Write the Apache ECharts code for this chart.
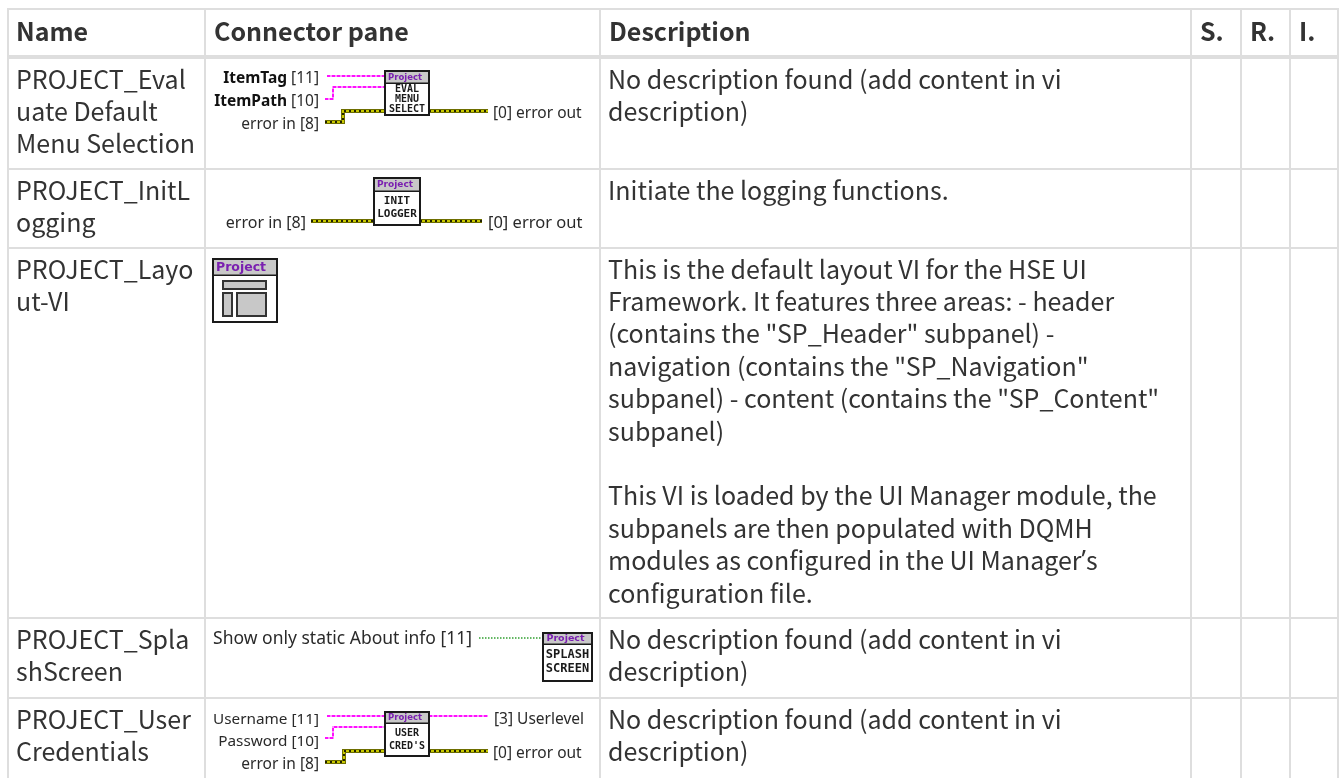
<!DOCTYPE html>
<html><head><meta charset="utf-8">
<style>html,body{margin:0;padding:0;background:#fff}#c{width:1340px;height:778px}</style>
<script src="https://cdn.jsdelivr.net/npm/echarts@6/dist/echarts.min.js"></script>
</head><body><div id="c"></div>
<script>
const headers = ['Name','Connector pane','Description','S.','R.','I.'];
const names = [
  ['PROJECT_Eval','uate Default','Menu Selection'],
  ['PROJECT_InitL','ogging'],
  ['PROJECT_Layo','ut-VI'],
  ['PROJECT_Spla','shScreen'],
  ['PROJECT_User','Credentials']
];
const descriptions = [
  ['No description found (add content in vi','description)'],
  ['Initiate the logging functions.'],
  ['This is the default layout VI for the HSE UI','Framework. It features three areas: - header','(contains the "SP_Header" subpanel) -','navigation (contains the "SP_Navigation"','subpanel) - content (contains the "SP_Content"','subpanel)','','This VI is loaded by the UI Manager module, the','subpanels are then populated with DQMH','modules as configured in the UI Manager{q|\u2019}s','configuration file.'],
  ['No description found (add content in vi','description)'],
  ['No description found (add content in vi','description)']
];
const colX = [7,204,599,1190,1240,1289,1337];
const rowY = [8,57,168,247,617,697];

const FONT = '"Noto Sans CJK SC","Noto Sans",sans-serif';
const UI = '"Noto Sans",sans-serif';
const TXT = '#333333', LINE = '#dedede';
const g = [];
const mctx = document.createElement('canvas').getContext('2d');
function W(s,font){ mctx.font=font; return mctx.measureText(s).width; }
function T(x,y,s,o,z){ g.push({type:'text',z:z||5,style:Object.assign({x,y,text:s,fill:TXT,font:'25px '+FONT,align:'left',verticalAlign:'middle',rich:{q:{font:'25px "Noto Sans"',fill:TXT}}},o||{})}); }
function L(x,y,w,h,c){ g.push({type:'rect',z:1,shape:{x,y,width:w,height:h},style:{fill:c}}); }
function P(pts,w,c,dash,z){ g.push({type:'polyline',z:z||3,shape:{points:pts},style:{stroke:c,lineWidth:w,fill:null,lineDash:dash||null,lineJoin:'miter'}}); }

colX.forEach(x=>L(x,8,2,770,LINE));
rowY.forEach((y,i)=>i==1 ? L(7,55,1332,4,LINE) : L(7,y,1332,2,LINE));
headers.forEach((h,i)=>T(colX[i]+(i>0?10:9),31,h,{font:'bold 25px '+FONT}));
const lh = 32.4;
names.forEach((ls,r)=>ls.forEach((s,i)=>T(16,rowY[r+1]+22+i*lh,s)));
descriptions.forEach((ls,r)=>ls.forEach((s,i)=>{ if(s) T(608,rowY[r+1]+22+i*lh,s); }));

function label(x,y,s,right,size){
  T(x,y+1.5,s,{font:(size||15.5)+'px '+UI,fill:'#2a2a2a',align:right?'right':'left'});
}
function pink(pts){ P(pts,2,'#ff90ff'); P(pts,2,'#ff10ff',[3,2],4); }
function yellow(pts){ P(pts,4,'#6e6e00'); P(pts,2,'#c8c800',null,4); P(pts,2,'#222200',[2,3],4); }
function green(pts){ P(pts,1.5,'#30a030',[1.5,1.5]); }
function L2(x1,y,x2){ g.push({type:'rect',z:6,shape:{x:x1,y:y-.5,width:x2-x1,height:1.5},style:{fill:'#1a1a1a'}}); }
function icon(x1,y1,x2,y2,strip,lines,ty,size,pSize){
  g.push({type:'rect',z:6,shape:{x:x1,y:y1,width:x2-x1,height:y2-y1},style:{fill:'#fff',stroke:'#1a1a1a',lineWidth:2}});
  g.push({type:'rect',z:6,shape:{x:x1+1,y:y1+1,width:x2-x1-2,height:strip-y1-1},style:{fill:'#c8c8c8'}});
  L2(x1,strip,x2);
  T((x1+x2)/2-2,(y1+strip)/2+.5,'Project',{font:'bold '+pSize+'px "DejaVu Sans",sans-serif',fill:'#7a1fb0',align:'center'},7);
  lines.forEach((s,i)=>T((x1+x2)/2,ty+i*(lines.length==3?10:13.5),s,{font:'bold '+size+'px "DejaVu Sans Mono",monospace',fill:'#1a1a1a',align:'center'},7));
}
function boldLabel(x,y,b,r){
  const f='15.5px '+UI;
  T(x,y+1.5,r,{font:f,fill:'#2a2a2a',align:'right'});
  T(x-W(r,f)-4,y+1.5,b,{font:'bold 15.5px '+UI,fill:'#111',align:'right'});
}

// row 1
boldLabel(319,77,'ItemTag','[11]');
boldLabel(319,100,'ItemPath','[10]');
label(319,123,'error in [8]',true);
pink([[327,76],[385,76]]);
pink([[325,99],[333,99],[333,87],[385,87]]);
yellow([[325,122],[343,122],[343,111],[385,111]]);
yellow([[429,111],[488,111]]);
label(493,112,'[0] error out');
icon(385,71,429,115,83,['EVAL','MENU','SELECT'],89,10,8.5);
// row 2
label(306,222,'error in [8]',true,16);
yellow([[311,221],[374,221]]);
yellow([[420,221],[482,221]]);
label(488,222,'[0] error out',false,16.5);
icon(374,178,420,225,191,['INIT','LOGGER'],201,11,9);
// row 3
g.push({type:'rect',z:6,shape:{x:213,y:259,width:64,height:63},style:{fill:'#fff',stroke:'#1a1a1a',lineWidth:2}});
g.push({type:'rect',z:6,shape:{x:214,y:260,width:62,height:15},style:{fill:'#c8c8c8'}});
L2(213,275,277);
T(241,267.5,'Project',{font:'bold 12.5px "DejaVu Sans",sans-serif',fill:'#7a1fb0',align:'center'},7);
[[223,281,43,8],[223,293,9,23],[237,293,29,23]].forEach(r=>g.push({type:'rect',z:7,shape:{x:r[0],y:r[1],width:r[2],height:r[3]},style:{fill:'#c8c8c8',stroke:'#333',lineWidth:2}}));
// row 4
label(472,637.5,'Show only static About info [11]',true,17.5);
green([[479,638],[543,638]]);
icon(543,633,592,681,644,['SPLASH','SCREEN'],655,12,9.5);
// row 5
label(319,718,'Username [11]',true,15.3);
label(319,740,'Password [10]',true,15.3);
label(319,763,'error in [8]',true);
pink([[327,716],[385,716]]);
pink([[429,716],[488,716]]);
pink([[325,738],[333,738],[333,727],[385,727]]);
yellow([[325,762],[344,762],[344,751],[385,751]]);
yellow([[429,751],[488,751]]);
label(494,718,'[3] Userlevel');
label(493,752,'[0] error out');
icon(385,712,429,756,723,['USER',"CRED'S"],733,10,8.5);

const chart = echarts.init(document.getElementById('c'),null,{renderer:'canvas'});
chart.setOption({animation:false,backgroundColor:'#fff',graphic:{elements:g}});
</script></body></html>
